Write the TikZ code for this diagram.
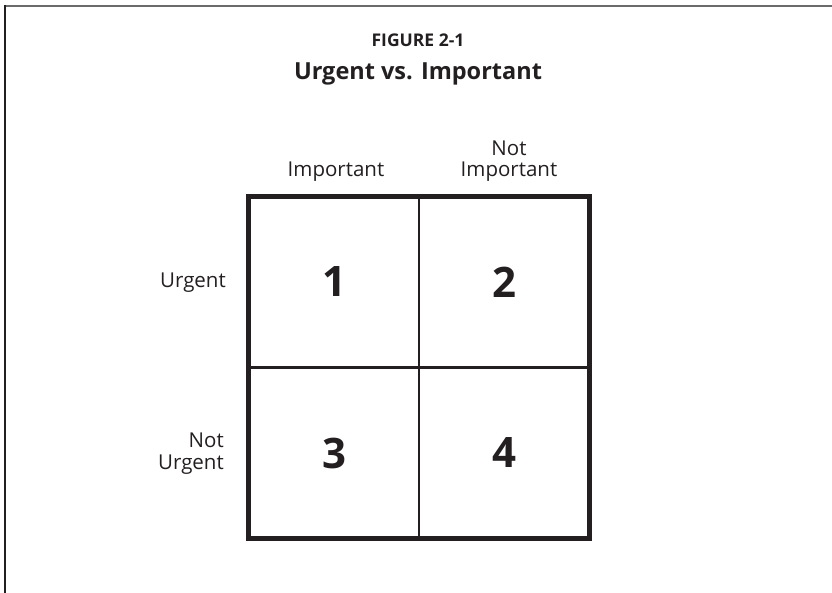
\documentclass[tikz,border=0pt]{standalone}
\usepackage{fontspec}
\setmainfont{Open Sans}
\usetikzlibrary{positioning}

\definecolor{ink}{HTML}{231F20}
\definecolor{rule}{HTML}{6B6B6B}

\begin{document}
\begin{tikzpicture}[
    x=1pt, y=-1pt,
    cell/.style={rectangle, draw=ink, line width=1.6pt, minimum size=170.5pt, inner sep=0pt, outer sep=0pt,
                 text=ink, font=\bfseries\fontsize{42}{42}\selectfont},
    head/.style={text=ink, align=center, inner sep=0pt, font=\fontsize{20.5}{21}\selectfont},
    side/.style={text=ink, align=right, inner sep=0pt, anchor=east, font=\fontsize{20.5}{22}\selectfont}
]
\useasboundingbox (0,0) rectangle (832,593);

% Page frame (open at right and bottom)
\draw[rule, line width=2pt] (5.3,6) -- (832,6);
\draw[ink, line width=2pt] (5.3,5) -- (5.3,593);

% Title
\node[text=ink, font=\bfseries\fontsize{17.5}{17.5}\selectfont, anchor=base] (fig)   at (418,47) {FIGURE 2-1};
\node[text=ink, font=\bfseries\fontsize{23.5}{23.5}\selectfont, anchor=base] (title) at (418,80) {Urgent vs. Important};

% Quadrants
\node[cell] (q1) at (334,282)   {1};
\node[cell] (q2) at (504.5,282) {2};
\node[cell] (q3) at (334,453)   {3};
\node[cell] (q4) at (504.5,453) {4};
\draw[ink, line width=5pt] (q1.north west) rectangle (q4.south east);

% Column and row labels
\node[head, anchor=south] (imp)    at (336,182) {Important};
\node[head, anchor=south] (notimp) at (509,182) {Not\\Important};
\node[side] (urg)    at (226,283) {Urgent};
\node[side] (noturg) at (224,454) {Not\\Urgent};

\end{tikzpicture}
\end{document}
